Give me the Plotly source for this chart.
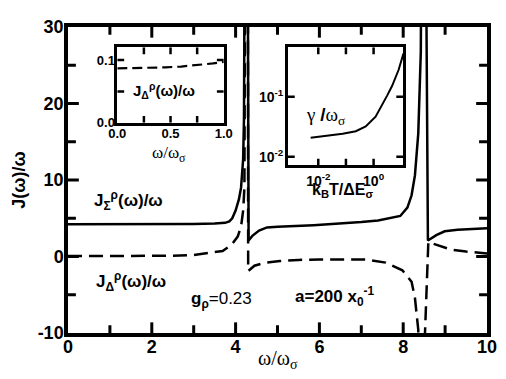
import plotly.graph_objects as go

# main panel: J_sigma (solid) and J_delta (dashed)
w_sigma = [0, 1, 2, 3, 3.5, 3.75, 3.85, 3.92, 4.0, 4.08, 4.13, 4.18, 4.2, 4.23,
           4.28, 4.31, 4.40, 4.56, 4.75, 5.0, 5.86, 6.5, 7.0, 7.4, 7.7, 7.93,
           8.1, 8.2, 8.28, 8.36, 8.42, 8.45, 8.52, 8.59, 8.79, 8.99, 9.3, 9.6, 10]
j_sigma = [4.2, 4.2, 4.2, 4.25, 4.3, 4.4, 4.6, 5.0, 6.0, 7.5, 9.0, 12.7, 18, 60,
           60, 2.1, 2.7, 3.4, 3.8, 3.9, 4.1, 4.3, 4.5, 4.7, 5.0, 5.3,
           6.4, 8.0, 10.6, 16.1, 26.7, 60, 60, 2.1, 2.8, 3.3, 3.5, 3.6, 3.7]

w_delta = [0, 1, 2, 2.5, 3.0, 3.13, 3.5, 3.69, 3.9, 4.05, 4.13, 4.18, 4.21, 4.24,
           4.29, 4.30, 4.45, 4.7, 5.06, 5.5, 6.0, 7.1, 7.58, 7.98, 8.2, 8.28,
           8.31, 8.36, 8.38, 8.515, 8.52, 8.6, 8.67, 9.14, 9.5, 9.77, 10]
j_delta = [0.05, 0.05, 0.05, 0.1, 0.2, 0.3, 0.5, 0.72, 1.5, 2.6, 3.9, 6.0, 9.0, 60,
           60, -1.9, -1.2, -0.8, -0.6, -0.45, -0.4, -0.4, -0.8, -1.8, -3.3, -5.4,
           -7.0, -9.6, -60, -60, -10, 1.9, 1.75, 0.9, 0.65, 0.5, 0.4]

# inset 1: J_delta/omega at low frequency
w_low = [0, 0.2, 0.45, 0.6, 0.75, 0.9, 1.0]
j_low = [0.0866, 0.087, 0.0882, 0.0895, 0.0918, 0.0945, 0.097]

# inset 2: gamma/omega_sigma vs kT/dE
kt = [0.0053, 0.0193, 0.076, 0.2275, 0.518, 1.18, 2.04, 3.08, 4.64, 8.04, 12.0]
gamma = [0.0207, 0.0221, 0.0241, 0.0266, 0.032, 0.0465, 0.0716, 0.104, 0.150, 0.280, 0.52]

# tick positions
main_x_major = [2, 4, 6, 8]
main_x_minor = [1, 3, 5, 7, 9]
main_y_major = [0, 10, 20]
main_y_minor = [-5, 5, 15, 25]
in1_x_ticks = [0.25, 0.5, 0.75]
in1_y_ticks = [0.05, 0.1]
in2_x_ticks = [-2, -1, 0]   # decades
in2_y_ticks = [-2, -1]

SANS = "Liberation Sans"
SERIF = "Liberation Serif"

# axis ranges and frame sizes in px
MAIN_X, MAIN_Y, MAIN_W, MAIN_H = [0, 10], [-10, 30], 425, 316
IN1_X, IN1_Y, IN1_W, IN1_H = [0, 1], [0, 0.12], 108, 78
IN2_X, IN2_Y, IN2_W, IN2_H = [-3.1, 1.07], [-2.145, -0.18], 117, 122   # log10 ranges

fig = go.Figure()


# inward tick marks as short line segments (added first, drawn below the curves)
def tick_trace(xr, yr, w, h, xt, yt, width, ax="", log=False):
    xs, ys = [], []
    for v, n in xt:
        dy = (yr[1] - yr[0]) * n / h
        xs += [v, v, None, v, v, None]
        ys += [yr[0], yr[0] + dy, None, yr[1], yr[1] - dy, None]
    for v, n in yt:
        dx = (xr[1] - xr[0]) * n / w
        xs += [xr[0], xr[0] + dx, None, xr[1], xr[1] - dx, None]
        ys += [v, v, None, v, v, None]
    if log:
        xs = [None if v is None else 10 ** v for v in xs]
        ys = [None if v is None else 10 ** v for v in ys]
    fig.add_trace(go.Scatter(x=xs, y=ys, mode="lines", xaxis="x" + ax, yaxis="y" + ax,
                             hoverinfo="skip", line=dict(color="black", width=width)))


tick_trace(MAIN_X, MAIN_Y, MAIN_W, MAIN_H,
           [(v, 11) for v in main_x_major] + [(v, 8) for v in main_x_minor],
           [(v, 11) for v in main_y_major] + [(v, 8) for v in main_y_minor], 3)
tick_trace(IN1_X, IN1_Y, IN1_W, IN1_H, [(v, 7) for v in in1_x_ticks],
           [(v, 7) for v in in1_y_ticks], 2.5, ax="2")
tick_trace(IN2_X, IN2_Y, IN2_W, IN2_H, [(v, 7) for v in in2_x_ticks],
           [(v, 7) for v in in2_y_ticks], 2.5, ax="3", log=True)

fig.add_trace(go.Scatter(x=w_sigma, y=j_sigma, mode="lines",
                         line=dict(color="black", width=2.5)))
fig.add_trace(go.Scatter(x=w_delta, y=j_delta, mode="lines",
                         line=dict(color="black", width=2.5, dash="14px,7px")))
fig.add_trace(go.Scatter(x=w_low, y=j_low, mode="lines", xaxis="x2", yaxis="y2",
                         line=dict(color="black", width=2.2, dash="10px,5px")))
fig.add_trace(go.Scatter(x=kt, y=gamma, mode="lines", xaxis="x3", yaxis="y3",
                         line=dict(color="black", width=2)))

frame = dict(showline=True, linecolor="black", mirror=True,
             showgrid=False, zeroline=False, ticks="")

# page body has an 8px margin, so the figure is shrunk by that much
fig.update_layout(
    width=498, height=371,
    margin=dict(l=60, r=13, t=9, b=46),
    paper_bgcolor="white", plot_bgcolor="white",
    showlegend=False,
    font=dict(family=SANS, color="black"),
    xaxis=dict(frame, range=MAIN_X, linewidth=3.5, ticklabelstandoff=-5,
               tickvals=[0, 2, 4, 6, 8, 10],
               tickfont=dict(size=18, weight="bold", family=SANS)),
    yaxis=dict(frame, range=MAIN_Y, linewidth=3.5, ticklabelstandoff=-3,
               tickvals=[-10, 0, 10, 20, 30], ticktext=["-10", "0", "10", "20", "30"],
               tickfont=dict(size=18, weight="bold", family=SANS)),
    xaxis2=dict(frame, domain=[0.1176, 0.3718], anchor="y2", range=IN1_X,
                linewidth=2.5, ticklabelstandoff=-3,
                tickvals=[0, 0.5, 1], ticktext=["0.0", "0.5", "1.0"],
                tickfont=dict(size=13, weight="bold", family=SANS)),
    yaxis2=dict(frame, domain=[0.6867, 0.9335], anchor="x2", range=IN1_Y,
                linewidth=2.5, ticklabelstandoff=-3,
                tickvals=[0, 0.1], ticktext=["0.0", "0.1"],
                tickfont=dict(size=13, weight="bold", family=SANS)),
    xaxis3=dict(frame, domain=[0.5247, 0.80], anchor="y3", type="log", range=IN2_X,
                linewidth=2.5, ticklabelstandoff=1,
                tickvals=[0.01, 1], ticktext=["10<sup>-2</sup>", "10<sup>0</sup>"],
                tickfont=dict(size=14, weight="bold", family=SANS)),
    yaxis3=dict(frame, domain=[0.5475, 0.9335], anchor="x3", type="log", range=IN2_Y,
                linewidth=2.5, ticklabelstandoff=-1,
                tickvals=[0.01, 0.1], ticktext=["10<sup>-2</sup>", "10<sup>-1</sup>"],
                tickfont=dict(size=14, weight="bold", family=SANS)),
)


def px(x, y):
    # pixel position in the reference picture -> paper coordinates of the main panel
    return (x - 68) / 425, (333 - y) / 316


def label(text, x, y, size=17, family=SANS, bold=True, xanchor="left", angle=0):
    xp, yp = px(x, y)
    fig.add_annotation(text=text, x=xp, y=yp, xref="paper", yref="paper",
                       xanchor=xanchor, yanchor="middle", showarrow=False, textangle=angle,
                       font=dict(size=size, family=family, color="black",
                                 weight="bold" if bold else "normal"))


label("J(ω)/ω", 18, 175, size=18, xanchor="center", angle=-90)
label("ω/ω<sub>σ</sub>", 281, 360, size=20, family=SERIF, bold=False, xanchor="center")
label("J<sub>Σ</sub><sup>ρ</sup>(ω)/ω", 92, 196)
label("J<sub>Δ</sub><sup>ρ</sup>(ω)/ω", 94, 280)
label("<b>g<sub>ρ</sub></b>=0.23", 191, 299, bold=False)
label("a=200 x<sub>0</sub><sup>-1</sup>", 296, 295)
label("J<sub>Δ</sub><sup>ρ</sup>(ω)/ω", 132, 83, size=15)
label("ω/ω<sub>σ</sub>", 170, 148, size=17, family=SERIF, bold=False, xanchor="center")
label("<span style='font-family:Liberation Serif;font-weight:normal'>γ </span>/"
      "<span style='font-family:Liberation Serif;font-weight:normal'>ω<sub>σ</sub></span>",
      307, 109, size=19)
label("k<sub>B</sub>T/ΔE<sub>σ</sub>", 313, 186, size=16)

fig.write_html("out.html")
